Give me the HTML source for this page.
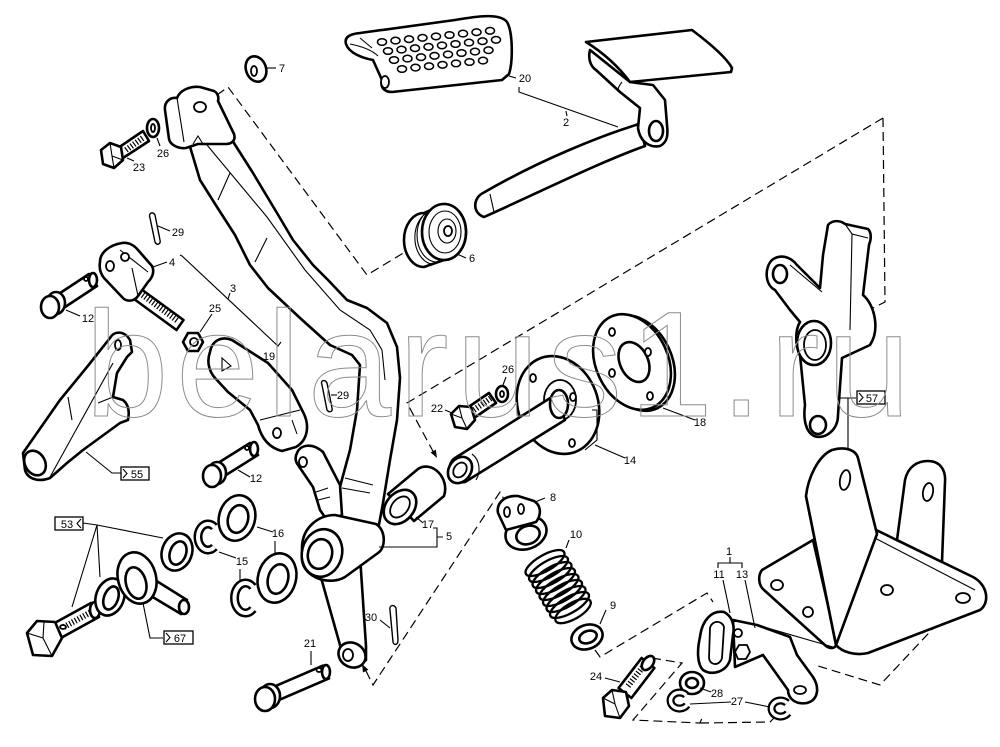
<!DOCTYPE html>
<html><head><meta charset="utf-8">
<style>
html,body{margin:0;padding:0;background:#fff;}
svg{display:block;}
.o{fill:#fff;stroke:#000;stroke-width:2.6;stroke-linejoin:round;stroke-linecap:round;}
.m{fill:#fff;stroke:#000;stroke-width:1.8;stroke-linejoin:round;}
.t{fill:none;stroke:#000;stroke-width:1.1;}
.d{fill:none;stroke:#000;stroke-width:1.2;stroke-dasharray:9 5;}
.h{fill:#fff;stroke:#000;stroke-width:1.4;}
.th{fill:none;stroke:#000;stroke-width:6;stroke-dasharray:1.2 2;}
text{font-family:"Liberation Sans",Arial,sans-serif;font-size:11px;fill:#000;text-anchor:middle;}
.wm{font-family:"Liberation Sans",Arial,sans-serif;font-size:150px;fill:none;stroke:#8c8c8c;stroke-width:1;letter-spacing:7.5px;text-anchor:start;}
</style></head><body>
<svg width="1000" height="747" viewBox="0 0 1000 747">
<rect width="1000" height="747" fill="#fff"/>

<!-- dashed assembly lines -->
<path class="d" d="M217,95 L228,87 L367,275 L405,252"/>
<path class="d" d="M883,118 L407,403 L435,455"/>
<polygon points="437,458 435.8,449.6 430.6,452.4" fill="#000"/>
<path class="d" d="M883,118 L885,302 L873,308"/>
<path class="d" d="M366,671 L373,685 L500,492 L506,503"/>
<polygon points="362,664 368.4,669.7 363,672.5" fill="#000"/>
<path class="d" d="M595,650 L600,657 L707,593 L713,602"/>
<path class="d" d="M887,590 L837,640"/>
<path class="d" d="M957,603 L880,685 L815,665"/>
<path class="d" d="M652,658 L682,663 L633,720 L700,723 L702,718 M700,723 L770,722 L775,717"/>

<!-- washer 7 -->
<ellipse class="o" cx="256" cy="69" rx="10" ry="13" transform="rotate(-20 256 69)"/>
<ellipse class="m" cx="254" cy="71" rx="3" ry="5"/>
<path class="t" d="M267,68 L276,68"/>

<!-- pedal pad 20 -->
<path class="o" d="M346,44 C344,37 350,34 360,33 L455,20 C478,16 500,13 507,22 C513,32 513,62 509,74 L502,80 L392,92 C384,92 380,87 382,80 L373,60 C362,58 349,53 346,44 Z"/>
<path class="t" d="M350,44 C360,46 372,50 378,56 M360,38 L372,48"/>
<ellipse class="m" cx="385" cy="82" rx="4" ry="6"/>
<g class="m" style="stroke-width:1.5">
<ellipse cx="382" cy="42" rx="4.5" ry="3.3"/><ellipse cx="395.5" cy="40.6" rx="4.5" ry="3.3"/><ellipse cx="409" cy="39.2" rx="4.5" ry="3.3"/><ellipse cx="422.5" cy="37.8" rx="4.5" ry="3.3"/><ellipse cx="436" cy="36.4" rx="4.5" ry="3.3"/><ellipse cx="449.5" cy="35" rx="4.5" ry="3.3"/><ellipse cx="463" cy="33.6" rx="4.5" ry="3.3"/><ellipse cx="476.5" cy="32.2" rx="4.5" ry="3.3"/><ellipse cx="490" cy="30.8" rx="4.5" ry="3.3"/>
<ellipse cx="388" cy="51" rx="4.5" ry="3.3"/><ellipse cx="401.5" cy="49.6" rx="4.5" ry="3.3"/><ellipse cx="415" cy="48.2" rx="4.5" ry="3.3"/><ellipse cx="428.5" cy="46.8" rx="4.5" ry="3.3"/><ellipse cx="442" cy="45.4" rx="4.5" ry="3.3"/><ellipse cx="455.5" cy="44" rx="4.5" ry="3.3"/><ellipse cx="469" cy="42.6" rx="4.5" ry="3.3"/><ellipse cx="482.5" cy="41.2" rx="4.5" ry="3.3"/><ellipse cx="496" cy="39.8" rx="4.5" ry="3.3"/>
<ellipse cx="394" cy="60" rx="4.5" ry="3.3"/><ellipse cx="407.5" cy="58.6" rx="4.5" ry="3.3"/><ellipse cx="421" cy="57.2" rx="4.5" ry="3.3"/><ellipse cx="434.5" cy="55.8" rx="4.5" ry="3.3"/><ellipse cx="448" cy="54.4" rx="4.5" ry="3.3"/><ellipse cx="461.5" cy="53" rx="4.5" ry="3.3"/><ellipse cx="475" cy="51.6" rx="4.5" ry="3.3"/><ellipse cx="488.5" cy="50.2" rx="4.5" ry="3.3"/>
<ellipse cx="402" cy="69" rx="4.5" ry="3.3"/><ellipse cx="415.5" cy="67.6" rx="4.5" ry="3.3"/><ellipse cx="429" cy="66.2" rx="4.5" ry="3.3"/><ellipse cx="442.5" cy="64.8" rx="4.5" ry="3.3"/><ellipse cx="456" cy="63.4" rx="4.5" ry="3.3"/><ellipse cx="469.5" cy="62" rx="4.5" ry="3.3"/><ellipse cx="483" cy="60.6" rx="4.5" ry="3.3"/>
</g>
<path class="t" d="M509,76 L516,78"/>

<!-- pedal 2 -->
<path class="o" d="M639,124 C600,136 540,160 483,193 C473,198 472,213 484,217 C540,192 600,162 645,146 Z"/>
<path class="t" d="M490,194 L494,212"/>
<path class="o" d="M590,50 C588,58 590,66 596,70 L620,92 L640,108 L638,128 C640,142 650,148 660,146 C668,142 668,134 667,125 L665,100 L653,85 L630,82 Z"/>
<ellipse class="o" cx="656" cy="131" rx="7" ry="10"/>
<path class="o" d="M586,42 L692,30 C708,42 726,57 732,68 L731,72 L630,82 C618,66 602,52 586,42 Z"/>
<path class="t" d="M622,82 C618,87 617,90 620,93"/>
<path class="t" d="M519,87 L519,92 L618,127 M566,111 L567,116"/>

<!-- roller 6 -->
<path class="o" d="M424,213 L444,204 A22,28 0 0 1 444,260 L424,267 A20,27 0 0 1 424,213 Z"/>
<path class="t" d="M431,211 A20,27 0 0 0 431,264 M437,208 A20,27 0 0 0 437,262"/>
<ellipse class="o" cx="444" cy="232" rx="22" ry="28"/>
<ellipse class="t" cx="445" cy="232" rx="16" ry="21"/>
<ellipse class="t" cx="447" cy="231" rx="9" ry="12"/>
<ellipse class="m" cx="448" cy="231" rx="4" ry="5"/>
<path class="t" d="M457,254 L466,258"/>

<!-- bolt 23, washer 26 -->
<polygon class="o" points="118,148 143,131 149,141 123,158"/>
<path class="th" d="M126,150 L144,137"/>
<polygon class="o" points="101,150 110,143 121,147 123,160 114,168 103,164"/>
<path class="t" d="M110,143 L112,156 L114,168 M112,156 L123,160"/>
<ellipse class="o" cx="153" cy="128" rx="6" ry="9"/>
<ellipse class="m" cx="153" cy="128" rx="2" ry="4"/>
<path class="t" d="M127,158 L134,161 M157,138 L160,146"/>

<!-- cotter 29 top -->
<path class="h" d="M150,218 C148,213 153,211 155,215 L160,240 C161,244 157,246 155,242 Z"/>
<path class="t" d="M158,226 L170,231"/>

<!-- main lever -->
<path class="o" d="M188,140 L200,180 L217,207 L235,235 L250,265 L268,288 L300,318 L330,345 L352,355 L360,365 L357,410 L350,450 L341,483 L333,515 L378,530 L383,503 L390,460 L397,420 L400,378 L397,347 L387,323 L367,308 L347,300 L328,280 L313,265 L293,240 L277,213 L253,173 L232,140 Z"/>
<path class="t" d="M207,145 L267,217 L305,270 L340,310 L370,330 L382,350 L385,380 M218,200 L230,173 M255,262 L267,238 M345,478 L373,485 M342,488 L370,493"/>
<path class="o" d="M165,110 C164,102 170,97 177,98 C180,90 190,86 200,87 L214,91 C218,93 219,98 218,101 L234,134 C236,140 232,144 226,144 L198,144 L186,148 C177,149 170,144 169,139 Z"/>
<path class="t" d="M177,98 L184,142 M193,144 L198,136 L203,144"/>
<ellipse class="m" cx="200" cy="107" rx="6" ry="5"/>
<path class="o" d="M297,453 C300,445 312,442 323,452 L340,485 L342,515 L327,520 L320,510 L313,487 L298,465 C295,461 295,457 297,453 Z"/>
<path class="t" d="M318,500 L330,497 M316,492 L328,488"/>
<ellipse class="m" cx="303" cy="462" rx="4" ry="5"/>
<path class="o" d="M320,574 L340,645 C342,662 355,670 366,660 L366,646 L360,556 Z"/>
<ellipse class="o" cx="352" cy="655" rx="14" ry="12" transform="rotate(30 352 655)"/>
<ellipse class="m" cx="348" cy="655" rx="5" ry="6"/>
<path class="o" d="M302,548 C302,528 318,515 335,515 L376,524 C386,530 386,548 378,553 L345,577 C330,586 304,578 302,560 Z"/>
<ellipse class="o" cx="322" cy="553" rx="20" ry="24" transform="rotate(15 322 553)"/>
<ellipse class="o" cx="320" cy="554" rx="12" ry="15" transform="rotate(15 320 554)"/>

<!-- clevis 4 -->
<polygon class="o" points="135.5,285 183.5,320 176.5,330 128.5,295"/>
<path class="th" d="M140,293 L178,321"/>
<path class="o" d="M100,262 C100,252 110,245 122,243 C128,242 134,245 138,250 L152,266 C155,272 152,278 148,282 L138,296 C134,302 126,302 122,297 L104,278 C100,273 99,268 100,262 Z"/>
<path class="t" d="M120,250 L148,272 M132,268 L138,296"/>
<ellipse class="m" cx="110" cy="266" rx="4" ry="5"/>
<ellipse class="m" cx="125" cy="257" rx="4" ry="4"/>
<path class="t" d="M153,267 L167,262"/>

<!-- pin 12 top-left -->
<polygon class="o" points="51,299 89,274 97,286 59,311"/>
<ellipse class="o" cx="93" cy="280" rx="4" ry="7"/>
<ellipse class="o" cx="56" cy="303" rx="9" ry="11"/>
<ellipse class="o" cx="50" cy="307" rx="9" ry="11"/>
<ellipse class="m" cx="86" cy="279" rx="2" ry="2"/>
<path class="t" d="M66,310 L80,316"/>

<!-- nut 25 -->
<polygon class="o" points="183,342 188,333 198,333 203,342 198,351 188,351"/>
<circle class="m" cx="194" cy="342" r="4"/>
<path class="t" d="M200,332 L212,314"/>
<path class="t" d="M180,255 L182,256 L278,346 L281,342 M230,293 L228,299"/>

<!-- link 19 -->
<path class="o" d="M210,352 C212,340 222,336 232,340 L268,363 L292,390 L303,412 C310,425 308,440 296,447 L282,451 C270,448 262,440 258,425 L250,410 L228,392 L215,378 C208,370 207,360 210,352 Z"/>
<path class="t" d="M222,358 L231,366 L222,371 Z M260,420 L300,410 M292,420 L297,434"/>
<ellipse class="m" cx="277" cy="433" rx="4" ry="5"/>

<!-- cotter 29 mid -->
<path class="h" d="M322,385 C320,380 325,379 327,383 L332,408 C333,412 329,413 327,410 Z"/>
<path class="t" d="M331,395 L337,395"/>

<!-- bellcrank 55 -->
<path class="o" d="M110,338 C114,331 124,330 130,340 L132,352 L127,357 L117,373 L113,397 L123,400 C128,404 130,410 128,420 L120,423 L83,450 L67,463 L50,478 C40,482 28,480 25,470 L23,453 L30,443 L60,400 L87,367 Z"/>
<ellipse class="o" cx="35" cy="463" rx="10" ry="13" transform="rotate(-30 35 463)"/>
<ellipse class="m" cx="118" cy="345" rx="3" ry="5"/>
<path class="t" d="M113,363 L50,477 M68,397 L72,420 M98,403 L113,397"/>
<path class="t" d="M86,452 L112,473 L121,473"/>
<rect x="121" y="467" width="28" height="13" fill="#fff" stroke="#000" stroke-width="1.3"/>
<path class="t" d="M123,469 L127,473.5 L123,478"/>

<!-- bolt 53 -->
<polygon class="o" points="51,625 91,603 99,617 59,639"/>
<path class="th" d="M64,627 L93,611"/>
<ellipse class="o" cx="95" cy="610" rx="5" ry="8"/>
<polygon class="o" points="27,633 37,621 55,622 62,638 52,656 33,655"/>
<path class="t" d="M44,622 L43,638 L52,656 M43,638 L27,633"/>
<ellipse class="m" cx="63" cy="627" rx="3" ry="2"/>

<!-- washers cluster -->
<ellipse class="o" cx="110" cy="597" rx="14" ry="19" transform="rotate(20 110 597)"/>
<ellipse class="o" cx="111" cy="598" rx="7" ry="12" transform="rotate(20 111 598)"/>
<polygon class="o" points="147,575 187,600 181,614 141,590"/>
<ellipse class="o" cx="184" cy="607" rx="5" ry="7"/>
<ellipse class="o" cx="137" cy="578" rx="19" ry="26" transform="rotate(-15 137 578)"/>
<ellipse class="o" cx="136" cy="583" rx="10" ry="16" transform="rotate(-15 136 583)"/>
<ellipse class="o" cx="177" cy="552" rx="15" ry="19" transform="rotate(20 177 552)"/>
<ellipse class="o" cx="178" cy="553" rx="8" ry="12" transform="rotate(20 178 553)"/>
<path d="M214.4,527 A10,13 0 1 0 214.4,547" fill="none" stroke="#000" stroke-width="9"/>
<path d="M214.4,527 A10,13 0 1 0 214.4,547" fill="none" stroke="#fff" stroke-width="4"/>
<ellipse class="o" cx="237" cy="518" rx="18" ry="23" transform="rotate(15 237 518)"/>
<ellipse class="o" cx="238" cy="519" rx="10" ry="14" transform="rotate(15 238 519)"/>
<ellipse class="o" cx="277" cy="578" rx="19" ry="25" transform="rotate(15 277 578)"/>
<ellipse class="o" cx="278" cy="579" rx="10" ry="15" transform="rotate(15 278 579)"/>
<path d="M253,587 A11,15 0 1 0 253,609" fill="none" stroke="#000" stroke-width="9"/>
<path d="M253,587 A11,15 0 1 0 253,609" fill="none" stroke="#fff" stroke-width="4"/>
<path class="t" d="M83,523 L97,525 L163,538 M97,525 L100,577 M97,525 L72,607"/>
<rect x="55" y="517" width="28" height="13" fill="#fff" stroke="#000" stroke-width="1.3"/>
<path class="t" d="M81,519 L77,523.5 L81,528"/>
<path class="t" d="M143,603 L150,638 L163,638"/>
<rect x="164" y="631" width="29" height="13" fill="#fff" stroke="#000" stroke-width="1.3"/>
<path class="t" d="M166,633 L170,637.5 L166,642"/>
<path class="t" d="M257,527 L273,532 M275,541 L275,553 M219,552 L236,558 M240,569 L240,580"/>

<!-- pin 12 mid -->
<polygon class="o" points="210,468 250,443 258,455 218,480"/>
<ellipse class="o" cx="254" cy="449" rx="4" ry="7"/>
<ellipse class="o" cx="217" cy="473" rx="9" ry="11"/>
<ellipse class="o" cx="212" cy="476" rx="9" ry="11"/>
<ellipse class="m" cx="247" cy="448" rx="2" ry="2"/>
<path class="t" d="M238,470 L250,477"/>

<!-- pin 21 -->
<polygon class="o" points="265,690.6 323,665.6 329,678.4 271,703.4"/>
<ellipse class="o" cx="326" cy="672" rx="4" ry="7"/>
<ellipse class="o" cx="270" cy="696" rx="10" ry="12"/>
<ellipse class="o" cx="265" cy="699" rx="10" ry="12"/>
<ellipse class="m" cx="319" cy="670" rx="2.5" ry="2"/>
<path class="t" d="M311,651 L311,665"/>

<!-- cotter 30 -->
<path class="h" d="M390,610 C389,605 394,604 396,608 L398,640 C398,645 394,646 393,642 Z"/>
<path class="t" d="M380,620 L390,628"/>

<!-- bushing 17 -->
<path class="o" d="M388,494 L418,469 C432,460 450,478 444,496 L414,521 Z"/>
<ellipse class="o" cx="400" cy="507" rx="14" ry="19" transform="rotate(40 400 507)"/>
<ellipse class="m" cx="400" cy="507" rx="8" ry="12" transform="rotate(40 400 507)"/>
<path class="t" d="M416,517 L423,523 M433,528 L437,528 L437,547 L379,547 M437,537 L443,537"/>

<!-- flange 14 and shaft -->
<ellipse class="o" cx="558" cy="405" rx="40" ry="50" transform="rotate(-20 558 405)"/>
<path class="t" d="M592,410 L597,410 L597,440 L585,450"/>
<ellipse class="m" cx="560" cy="400" rx="16" ry="20"/>
<ellipse class="m" cx="533" cy="378" rx="3" ry="4"/>
<ellipse class="m" cx="573" cy="397" rx="3" ry="4"/>
<ellipse class="m" cx="572" cy="443" rx="3" ry="4"/>
<path class="o" d="M555,395 L455,458 C445,465 448,485 465,482 L565,420 Z"/>
<ellipse class="o" cx="460" cy="470" rx="11" ry="14" transform="rotate(35 460 470)"/>
<ellipse class="m" cx="460" cy="470" rx="6" ry="8" transform="rotate(35 460 470)"/>
<path class="t" d="M472,454 C480,460 481,472 476,480"/>
<ellipse class="o" cx="559" cy="404" rx="9" ry="14"/>
<path class="t" d="M595,445 L625,458"/>

<!-- disc 18 -->
<ellipse class="o" cx="636" cy="363" rx="36" ry="50" transform="rotate(-25 636 363)"/>
<ellipse class="o" cx="632" cy="362" rx="36" ry="50" transform="rotate(-25 632 362)"/>
<ellipse class="o" cx="634" cy="362" rx="14" ry="21" transform="rotate(-25 634 362)"/>
<ellipse class="m" cx="612" cy="332" rx="3" ry="4"/>
<ellipse class="m" cx="648" cy="352" rx="3" ry="4"/>
<ellipse class="m" cx="612" cy="373" rx="3" ry="4"/>
<ellipse class="m" cx="650" cy="396" rx="3" ry="4"/>
<path class="t" d="M663,408 L695,420"/>

<!-- bolt 22 / washer 26 -->
<polygon class="o" points="467,408 489,393 496,403 474,418"/>
<path class="th" d="M474,410 L491,398"/>
<polygon class="o" points="451,414 459,406 471,407 475,420 467,429 455,427"/>
<path class="t" d="M459,406 L462,418 L467,429 M462,418 L451,414"/>
<ellipse class="o" cx="502" cy="394" rx="6" ry="8"/>
<ellipse class="m" cx="502" cy="394" rx="2" ry="3"/>
<path class="t" d="M445,410 L452,413 M506,377 L503,385"/>

<!-- part 8 -->
<ellipse class="o" cx="526" cy="533" rx="21" ry="16" transform="rotate(-20 526 533)"/>
<ellipse class="o" cx="528" cy="535" rx="12" ry="9" transform="rotate(-20 528 535)"/>
<path class="o" d="M498,513 C496,502 506,495 518,496 L534,501 C542,506 541,516 536,522 L506,530 Z"/>
<ellipse class="m" cx="507" cy="512" rx="3" ry="5"/>
<ellipse class="m" cx="521" cy="509" rx="3" ry="5"/>
<path class="t" d="M535,502 L545,498"/>

<!-- spring 10 -->
<g fill="none" stroke="#000" stroke-width="2.3">
<ellipse cx="545" cy="563" rx="22" ry="8" transform="rotate(-30 545 563)"/>
<ellipse cx="548.5" cy="569" rx="22" ry="8" transform="rotate(-30 548.5 569)"/>
<ellipse cx="552" cy="575" rx="22" ry="8" transform="rotate(-30 552 575)"/>
<ellipse cx="555.5" cy="581" rx="22" ry="8" transform="rotate(-30 555.5 581)"/>
<ellipse cx="559" cy="587" rx="22" ry="8" transform="rotate(-30 559 587)"/>
<ellipse cx="562.5" cy="593" rx="22" ry="8" transform="rotate(-30 562.5 593)"/>
<ellipse cx="566" cy="599" rx="22" ry="8" transform="rotate(-30 566 599)"/>
<ellipse cx="569.5" cy="605" rx="22" ry="8" transform="rotate(-30 569.5 605)"/>
<ellipse cx="573" cy="611" rx="20" ry="8" transform="rotate(-30 573 611)"/>
</g>
<path class="t" d="M569,540 L566,548"/>

<!-- washer 9 -->
<ellipse class="o" cx="587" cy="637" rx="16" ry="12" transform="rotate(-20 587 637)"/>
<ellipse class="o" cx="588" cy="637" rx="9" ry="6" transform="rotate(-20 588 637)"/>
<path class="t" d="M606,610 L600,624"/>

<!-- bracket lever 57 -->
<path class="o" d="M828,225 C832,220 840,220 845,224 L868,229 C872,233 871,240 869,245 L863,295 C875,305 880,330 870,345 L842,358 L838,415 C838,430 825,440 814,436 C806,432 803,420 805,405 L800,355 C795,345 795,330 800,322 L790,310 L775,290 C765,285 764,268 772,260 C780,254 790,256 797,265 L820,288 L823,255 Z"/>
<path class="t" d="M845,224 L852,234 L868,238 M852,234 L850,330 M790,265 L822,292"/>
<ellipse class="o" cx="814" cy="343" rx="17" ry="22"/>
<ellipse class="m" cx="815" cy="345" rx="11" ry="15"/>
<ellipse class="o" cx="780" cy="274" rx="7" ry="9"/>
<ellipse class="o" cx="818" cy="425" rx="8" ry="9"/>
<path class="t" d="M838,398 L856,398 M848,398 L848,450"/>
<rect x="857" y="391" width="28" height="13" fill="#fff" stroke="#000" stroke-width="1.3"/>
<path class="t" d="M859,393 L863,397.5 L859,402"/>

<!-- mounting bracket -->
<path class="o" d="M762,570 L813,540 L836,640 C838,648 832,650 826,646 L764,590 C758,585 758,575 762,570 Z"/>
<path class="o" d="M806,496 L973,577 C988,585 990,603 980,610 L868,653 C855,656 842,652 836,645 Z"/>
<path class="t" d="M815,507 L975,590"/>
<path class="o" d="M897,540 L905,480 C908,466 918,461 928,461 C940,461 946,470 945,482 L942,562 Z"/>
<path class="o" d="M806,496 C808,478 818,456 832,450 C845,446 856,450 858,458 L877,534 L836,645 Z"/>
<path class="t" d="M813,540 L836,645"/>
<ellipse class="m" cx="845" cy="480" rx="5" ry="10" transform="rotate(10 845 480)"/>
<ellipse class="m" cx="928" cy="492" rx="5" ry="9" transform="rotate(10 928 492)"/>
<ellipse class="m" cx="777" cy="585" rx="6" ry="5"/>
<ellipse class="m" cx="808" cy="612" rx="5" ry="5"/>
<ellipse class="m" cx="887" cy="590" rx="6" ry="5"/>
<ellipse class="m" cx="963" cy="598" rx="7" ry="5"/>

<!-- parts 11 / 13 -->
<path class="t" d="M757,625 L833,647"/>
<path class="o" d="M733,620 L757,625 L790,637 L797,655 L813,677 C820,688 818,700 807,703 C795,705 788,698 788,690 L763,655 L735,667 Z"/>
<ellipse class="m" cx="800" cy="690" rx="6" ry="4"/>
<path class="o" d="M700,637 C702,620 712,610 724,612 C732,616 735,625 733,635 L730,660 C726,672 712,676 703,670 C697,664 697,650 700,637 Z"/>
<path class="m" d="M710,628 C712,620 722,620 724,627 L722,658 C720,666 710,666 709,658 Z"/>
<circle class="m" cx="738" cy="633" r="4"/>
<polygon class="m" points="735,652 739,645 747,645 750,652 746,659 738,659"/>
<path class="t" d="M723,580 L730,613 M745,580 L755,628 M718,568 L718,563 L742,563 L742,568 M730,563 L730,557"/>

<!-- bolt 24, washers 28/27 -->
<polygon class="o" points="618.6,688 641.6,658 654.4,668 631.4,698"/>
<path class="th" d="M628,686 L646,663"/>
<ellipse class="o" cx="648" cy="663" rx="8" ry="5" transform="rotate(-53 648 663)"/>
<polygon class="o" points="603,698 612,690 626,692 629,706 620,718 605,716"/>
<path class="t" d="M612,690 L615,704 L620,718 M615,704 L603,698"/>
<ellipse class="o" cx="692" cy="683" rx="12" ry="11"/>
<ellipse class="o" cx="692" cy="683" rx="6" ry="5"/>
<path d="M686,695 A9,8 0 1 0 687,705" fill="none" stroke="#000" stroke-width="8"/>
<path d="M686,695 A9,8 0 1 0 687,705" fill="none" stroke="#fff" stroke-width="3.5"/>
<path d="M787,703 A9,8 0 1 0 788,713" fill="none" stroke="#000" stroke-width="8"/>
<path d="M787,703 A9,8 0 1 0 788,713" fill="none" stroke="#fff" stroke-width="3.5"/>
<path class="t" d="M605,678 L620,682 M700,688 L711,692 M731,702 L690,704 M745,702 L770,707"/>

<!-- labels -->
<text x="282" y="72">7</text>
<text x="525" y="82">20</text>
<text x="566" y="126">2</text>
<text x="163" y="157">26</text>
<text x="139" y="171">23</text>
<text x="178" y="236">29</text>
<text x="172" y="266">4</text>
<text x="472" y="262">6</text>
<text x="233" y="292">3</text>
<text x="215" y="312">25</text>
<text x="88" y="322">12</text>
<text x="269" y="360">19</text>
<text x="343" y="399">29</text>
<text x="508" y="373">26</text>
<text x="437" y="412">22</text>
<text x="700" y="426">18</text>
<text x="630" y="464">14</text>
<text x="872" y="402">57</text>
<text x="137" y="478">55</text>
<text x="256" y="482">12</text>
<text x="553" y="501">8</text>
<text x="67" y="528">53</text>
<text x="428" y="528">17</text>
<text x="449" y="540">5</text>
<text x="278" y="537">16</text>
<text x="576" y="538">10</text>
<text x="242" y="565">15</text>
<text x="729" y="555">1</text>
<text x="719" y="578">11</text>
<text x="742" y="578">13</text>
<text x="613" y="609">9</text>
<text x="371" y="621">30</text>
<text x="180" y="642">67</text>
<text x="310" y="647">21</text>
<text x="596" y="680">24</text>
<text x="717" y="697">28</text>
<text x="737" y="705">27</text>

<!-- watermark -->
<text class="wm" x="85" y="416">belarus1.ru</text>
</svg>
</body></html>
